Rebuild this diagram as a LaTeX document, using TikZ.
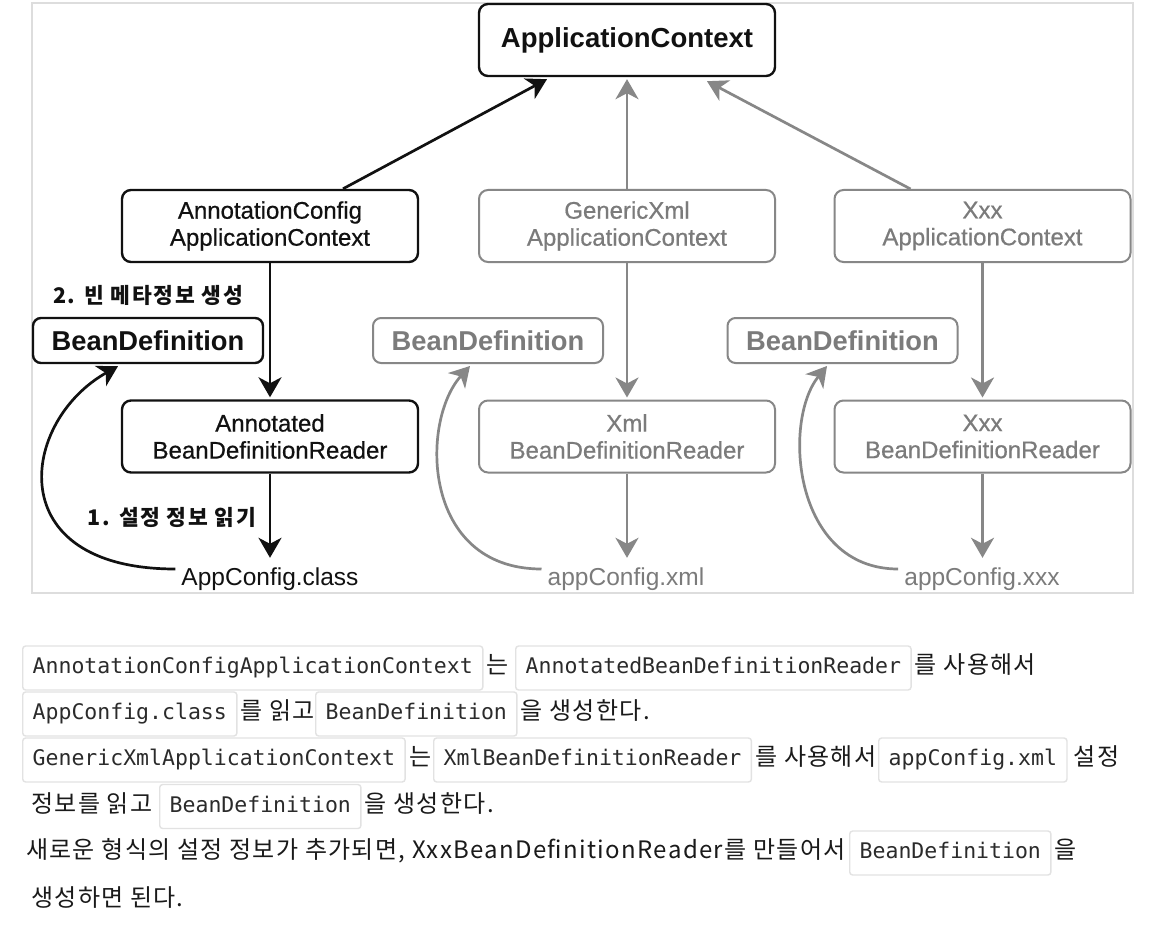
\documentclass[tikz,border=0pt]{standalone}
\usepackage{fontspec}
\setmainfont{Liberation Sans}
\newfontfamily\krf{Noto Sans CJK KR}[LetterSpace=5.5]
\newfontfamily\krl{Noto Sans CJK KR}[LetterSpace=8]
\newfontfamily\cmono{DejaVu Sans Mono}
\newfontfamily\medsf{Liberation Sans}[FakeBold=0.6]
\usetikzlibrary{arrows.meta,calc,positioning}
\definecolor{frm}{HTML}{DDDDDD}
\definecolor{gry}{HTML}{878787}
\definecolor{gtxt}{HTML}{7B7B7B}
\definecolor{cb}{HTML}{E2E2E2}
\definecolor{ink}{HTML}{111111}
\definecolor{ctxt}{HTML}{2B2B2B}
\definecolor{ktx}{HTML}{1A1A1A}
\begin{document}
\begin{tikzpicture}[x=1pt,y=-1pt,
  box/.style={draw=ink, line width=2.4pt, rounded corners=9pt, minimum width=296pt,
    minimum height=72pt, align=center, text=ink, inner sep=0pt,
    font=\medsf\fontsize{24}{27}\selectfont},
  gbox/.style={box, draw=gry, line width=2pt, text=gtxt},
  bdbox/.style={draw=ink, line width=2.4pt, rounded corners=8pt, minimum width=230pt,
    minimum height=45pt, inner sep=0pt, text=ink,
    font=\bfseries\fontsize{27.3}{30}\selectfont},
  gbd/.style={bdbox, draw=gry, line width=2pt, text=gtxt},
  file/.style={anchor=base, inner xsep=6pt, inner ysep=10pt, text height=17pt, text depth=5pt,
    text=ink, font=\fontsize{24.5}{28}\selectfont},
  lbl/.style={text=ink, inner sep=0pt, font=\krl\bfseries\fontsize{21.5}{24}\selectfont},
  arr/.style={draw=ink, line width=2.7pt, -{Stealth[length=20pt,width=23pt,inset=6pt]}},
  garr/.style={arr, draw=gry},
  code/.style={draw=cb, line width=1.4pt, fill=white, rounded corners=3pt, anchor=base west,
    text height=16pt, text depth=5pt, inner xsep=10pt, inner ysep=11.5pt, text=ctxt,
    font=\cmono\fontsize{21.5}{26}\selectfont},
  ktxt/.style={anchor=base west, inner xsep=3pt, inner ysep=0pt, text=ktx,
    font=\krf\fontsize{24}{28}\selectfont}
]
\useasboundingbox (0,0) rectangle (1170,928);
\fill[white] (0,0) rectangle (1170,928);
\draw[frm, line width=2.5pt] (32,3) rectangle (1133,593);

% diagram nodes
\node[box, font=\bfseries\fontsize{27.5}{30}\selectfont] (top) at (627,40) {ApplicationContext};
\node[box]  (ac1) at (270,226)   {AnnotationConfig\\ApplicationContext};
\node[gbox] (ac2) at (627,226)   {GenericXml\\ApplicationContext};
\node[gbox] (ac3) at (982.5,226) {Xxx\\ApplicationContext};
\node[bdbox] (bd1) at (148,340.5)   {BeanDefinition};
\node[gbd]   (bd2) at (488,340.5)   {BeanDefinition};
\node[gbd]   (bd3) at (842.5,340.5) {BeanDefinition};
\node[box]  (rd1) at (270,436.5)   {Annotated\\BeanDefinitionReader};
\node[gbox] (rd2) at (627,436.5)   {Xml\\BeanDefinitionReader};
\node[gbox] (rd3) at (982.5,436.5) {Xxx\\BeanDefinitionReader};
\node[file] (f1) at (270,585) {AppConfig.class};
\node[file, text=gtxt] (f2) at (626,585) {appConfig.xml};
\node[file, text=gtxt] (f3) at (982,585) {appConfig.xxx};
\node[lbl] (l2) at (148,295) {2. 빈 메타정보 생성};
\node[lbl] (l1) at (172,517) {1. 설정 정보 읽기};

% connectors
\draw[arr]  ($(ac1.north)+(73,0)$) -- ($(top.south)+(-80,2)$);
\draw[garr] (ac2.north) -- ($(top.south)+(0,2)$);
\draw[garr] ($(ac3.north)+(-72,0)$) -- ($(top.south)+(80,4)$);
\draw[arr]  (ac1.south) -- ($(rd1.north)+(0,-2)$);
\draw[garr] (ac2.south) -- ($(rd2.north)+(0,-2)$);
\draw[garr] (ac3.south) -- ($(rd3.north)+(0,-2)$);
\draw[arr]  (rd1.south) -- (rd1.south |- f1.north);
\draw[garr] (rd2.south) -- (rd2.south |- f2.north);
\draw[garr] (rd3.south) -- (rd3.south |- f3.north);
\draw[arr]  ($(f1.west)+(0,-10)$) .. controls +(-176,0) and +(-98,55) .. ($(bd1.south)+(-30,2)$);
\draw[garr] ($(f2.west)+(0,-10)$) .. controls +(-120,0) and +(-50,55) .. ($(bd2.south)+(-18,2)$);
\draw[garr] ($(f3.west)+(0,-10)$) .. controls +(-105,0) and +(-45,55) .. ($(bd3.south)+(-15.5,2)$);

% text below
\node[code] (c11) at (22,673.5) {AnnotationConfigApplicationContext};
\node[ktxt] (t11) at (c11.base east) {는};
\node[code] (c12) at (515,673.5) {AnnotatedBeanDefinitionReader};
\node[ktxt] (t12) at (c12.base east) {를 사용해서};

\node[code] (c21) at (22,719.5) {AppConfig.class};
\node[ktxt] (t21) at (c21.base east) {를 읽고};
\node[code] (c22) at (315,719.5) {BeanDefinition};
\node[ktxt] (t22) at (c22.base east) {을 생성한다.};

\node[code] (c31) at (22,765.5) {GenericXmlApplicationContext};
\node[ktxt] (t31) at (c31.base east) {는};
\node[code] (c32) at (433,765.5) {XmlBeanDefinitionReader};
\node[ktxt] (t32) at (c32.base east) {를 사용해서};
\node[code] (c33) at (878,765.5) {appConfig.xml};
\node[ktxt, inner xsep=6pt] (t33) at (c33.base east) {설정};

\node[ktxt] (t41) at (28,812) {정보를 읽고};
\node[code] (c41) at (159,812) {BeanDefinition};
\node[ktxt] (t42) at (c41.base east) {을 생성한다.};

\node[ktxt] (t51) at (23,858.5) {새로운 형식의 설정 정보가 추가되면, XxxBeanDefinitionReader를 만들어서};
\node[code] (c51) at (849,858.5) {BeanDefinition};
\node[ktxt] (t52) at (c51.base east) {을};

\node[ktxt] (t61) at (28,906) {생성하면 된다.};
\end{tikzpicture}
\end{document}
